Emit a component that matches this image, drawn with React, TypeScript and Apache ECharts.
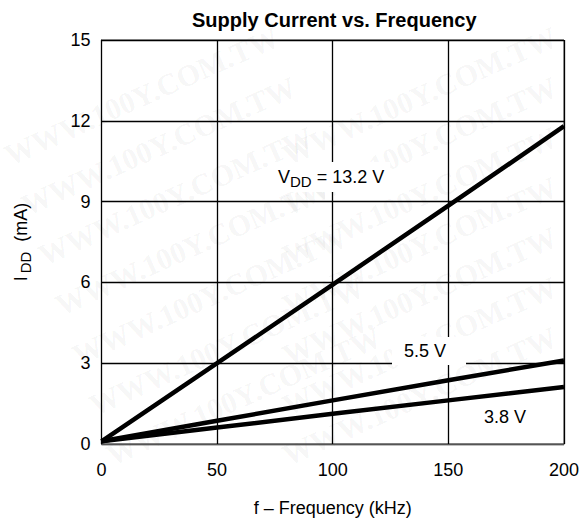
import React, { useEffect, useRef } from "react";
import * as echarts from "echarts";

const xTicks = [0, 50, 100, 150, 200];
const yTicks = [0, 3, 6, 9, 12, 15];
const seriesNames = ["13.2 V", "5.5 V", "3.8 V"];
const vdd132: [number, number][] = [[0, 0.1], [50, 3.0], [100, 5.92], [150, 8.85], [200, 11.8]];
const vdd55: [number, number][] = [[0, 0.1], [50, 0.86], [100, 1.62], [150, 2.37], [200, 3.1]];
const vdd38: [number, number][] = [[0, 0.1], [50, 0.61], [100, 1.12], [150, 1.62], [200, 2.12]];

const FONT = "'Liberation Sans', Arial, Helvetica, sans-serif";

export default function App() {
  const ref = useRef<HTMLDivElement>(null);
  useEffect(() => {
    document.body.style.margin = "0";
    if (!ref.current) return;
    const chart = echarts.init(ref.current, undefined, { renderer: "svg" });

    const watermark: any[] = [];
    const cols = [
      { x0: 12, dx: 17 },
      { x0: 290, dx: 0 },
    ];
    cols.forEach((c) => {
      for (let r = 0; r < 7; r++) {
        watermark.push({
          type: "text",
          x: c.x0 + r * c.dx,
          y: 170 + r * 50,
          rotation: 0.42,
          z: -10,
          silent: true,
          style: {
            text: "WWW.100Y.COM.TW",
            font: "bold 30px 'Liberation Serif', 'Times New Roman', serif",
            fill: "rgba(0,0,0,0.05)",
            textVerticalAlign: "bottom",
          },
        });
      }
    });

    const line = (name: string, data: [number, number][]) => ({
      type: "line",
      name,
      data,
      showSymbol: false,
      symbol: "none",
      lineStyle: { color: "#000", width: 4.5 },
      z: 5,
    });

    chart.setOption({
      animation: false,
      backgroundColor: "#fff",
      title: {
        text: "Supply Current vs. Frequency",
        left: 187,
        top: 5,
        textStyle: { fontFamily: FONT, fontSize: 20, fontWeight: "bold", color: "#000" },
      },
      grid: { left: 101, right: 16, top: 40, bottom: 80, show: true, borderColor: "#555", borderWidth: 1 },
      xAxis: {
        type: "value",
        min: xTicks[0],
        max: xTicks[xTicks.length - 1],
        interval: 50,
        name: "f – Frequency (kHz)",
        nameLocation: "middle",
        nameGap: 55,
        nameTextStyle: { fontFamily: FONT, fontSize: 18, color: "#000" },
        axisLine: { show: true, lineStyle: { color: "#555", width: 1 } },
        axisTick: { show: false },
        axisLabel: { fontFamily: FONT, fontSize: 18, color: "#000", margin: 17 },
        splitLine: { show: true, lineStyle: { color: "#000", width: 1.3 } },
      },
      yAxis: {
        type: "value",
        min: yTicks[0],
        max: yTicks[yTicks.length - 1],
        interval: 3,
        name: "{a|I}{s|DD}{a|  (mA)}",
        nameLocation: "middle",
        nameGap: 70,
        nameRotate: 90,
        nameTextStyle: {
          fontFamily: FONT,
          color: "#000",
          rich: {
            a: { fontFamily: FONT, fontSize: 18, color: "#000", lineHeight: 22 },
            s: { fontFamily: FONT, fontSize: 15, color: "#000", lineHeight: 22, padding: [10, 0, 0, 3] },
          },
        },
        axisLine: { show: true, lineStyle: { color: "#000", width: 1 } },
        axisTick: { show: false },
        axisLabel: { fontFamily: FONT, fontSize: 18, color: "#000", margin: 11 },
        splitLine: { show: true, lineStyle: { color: "#000", width: 1.3 } },
      },
      series: [line(seriesNames[0], vdd132), line(seriesNames[1], vdd55), line(seriesNames[2], vdd38)],
      graphic: [
        ...watermark,
        {
          type: "text",
          x: 272,
          y: 162,
          z: 100,
          style: {
            text: "{a|V}{s|DD}{a| = 13.2 V}",
            backgroundColor: "#fff",
            padding: [4, 6, 4, 6],
            rich: {
              a: { fontFamily: FONT, fontSize: 18, color: "#000", lineHeight: 22 },
              s: { fontFamily: FONT, fontSize: 15, color: "#000", lineHeight: 22, padding: [8, 0, 0, 0] },
            },
          },
        },
        {
          type: "text",
          x: 392,
          y: 337,
          z: 100,
          style: {
            text: "5.5 V",
            font: `18px ${FONT}`,
            fill: "#000",
            backgroundColor: "#fff",
            padding: [5, 20, 5, 12],
          },
        },
        {
          type: "text",
          x: 478,
          y: 404,
          z: 100,
          style: {
            text: "3.8 V",
            font: `18px ${FONT}`,
            fill: "#000",
            backgroundColor: "#fff",
            padding: [4, 6, 4, 6],
          },
        },
      ],
    });
    return () => chart.dispose();
  }, []);
  return <div ref={ref} style={{ width: 582, height: 524 }} />;
}
